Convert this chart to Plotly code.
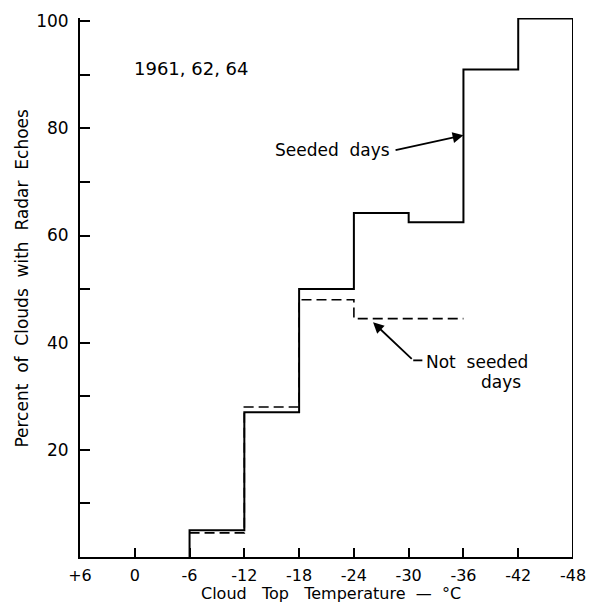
import plotly.graph_objects as go

# Data
bin_edges = [-6, -12, -18, -24, -30, -36, -42, -48]
seeded = [5, 27, 50, 64.2, 62.5, 91, 100.5]
not_seeded = [4.5, 28, 48, 44.5, 44.5]
x_ticks = [6, 0, -6, -12, -18, -24, -30, -36, -42, -48]
x_ticklabels = ["+6", "0", "-6", "-12", "-18", "-24", "-30", "-36", "-42", "-48"]
y_ticks = [10, 20, 30, 40, 50, 60, 70, 80, 90, 100]
y_ticklabels = ["", "20", "", "40", "", "60", "", "80", "", "100"]

FONT = "DejaVu Sans"

# Step coordinates built from bins
sx, sy = [bin_edges[0]], [0]
for i, v in enumerate(seeded):
    sx += [bin_edges[i], bin_edges[i + 1]]
    sy += [v, v]
sx.append(bin_edges[len(seeded)])
sy.append(0)

nx, ny = [], []
for i, v in enumerate(not_seeded):
    nx += [bin_edges[i], bin_edges[i + 1]]
    ny += [v, v]

fig = go.Figure()
fig.add_trace(go.Scatter(x=nx, y=ny, mode="lines",
                         line=dict(color="black", width=1.6, dash="10px,5px"),
                         showlegend=False))
fig.add_trace(go.Scatter(x=sx, y=sy, mode="lines",
                         line=dict(color="black", width=2),
                         showlegend=False))

fig.update_layout(
    width=591, height=607,
    margin=dict(l=80, r=18, t=18, b=50, autoexpand=False),
    plot_bgcolor="white", paper_bgcolor="white",
    font=dict(family=FONT, color="black", size=16),
    xaxis=dict(range=[6, -48], tickvals=x_ticks, ticktext=x_ticklabels,
               ticks="inside", ticklen=9, tickwidth=1.5, tickcolor="black",
               showline=True, linecolor="black", linewidth=2,
               ticklabelstandoff=3, automargin=False,
               showgrid=False, zeroline=False, tickfont=dict(size=16)),
    yaxis=dict(range=[0, 100.6], tickvals=y_ticks, ticktext=y_ticklabels,
               ticks="inside", ticklen=10, tickwidth=1.5, tickcolor="black",
               showline=True, linecolor="black", linewidth=2,
               ticklabelstandoff=6, automargin=False,
               showgrid=False, zeroline=False, tickfont=dict(size=17)),
)

ann = [
    dict(x=0.3, y=91.2, text="1961, 62, 64", showarrow=False, xanchor="left",
         yanchor="middle", font=dict(size=18)),
    dict(x=-28.2, y=75.9, text="Seeded  days", showarrow=False, xanchor="right",
         yanchor="middle", font=dict(size=17)),
    dict(x=-36, y=78.7, ax=-28.4, ay=75.9, axref="x", ayref="y",
         showarrow=True, arrowhead=2, arrowsize=1.2, arrowwidth=1.8, text="",
         arrowcolor="black"),
    dict(x=-26.1, y=43.8, ax=-30.5, ay=36.7, axref="x", ayref="y",
         showarrow=True, arrowhead=2, arrowsize=1.2, arrowwidth=1.8, text="",
         arrowcolor="black"),
    dict(x=-31.7, y=36.4, text="Not  seeded", showarrow=False, xanchor="left",
         yanchor="middle", font=dict(size=17)),
    dict(x=-40.1, y=32.6, text="days", showarrow=False, xanchor="center",
         yanchor="middle", font=dict(size=17)),
    dict(x=0.509, xref="paper", y=-0.089, yref="paper",
         text="Cloud   Top   Temperature  \u2014  \u00b0C", showarrow=False,
         xanchor="center", yanchor="bottom", font=dict(size=16)),
    dict(x=-0.118, xref="paper", y=0.518, yref="paper",
         text="Percent  of  Clouds  with  Radar  Echoes", showarrow=False,
         textangle=-90, xanchor="center", yanchor="middle", font=dict(size=17)),
]
fig.update_layout(annotations=ann)
fig.add_shape(type="line", x0=-30.5, y0=36.7, x1=-31.5, y1=36.7,
              line=dict(color="black", width=1.8))

fig.write_html(
    "out.html",
    config={"responsive": False, "displayModeBar": False},
    post_script="document.body.style.margin='0';document.body.style.overflow='hidden';",
)
